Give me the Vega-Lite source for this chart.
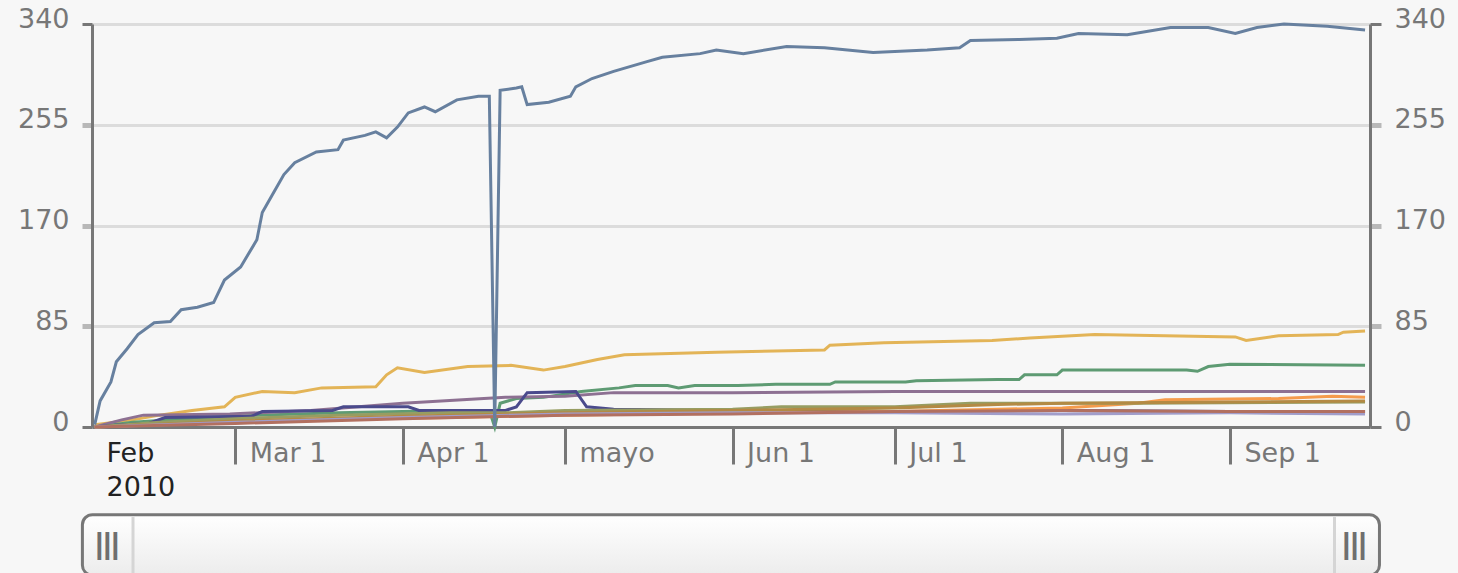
{
  "$schema": "https://vega.github.io/schema/vega-lite/v6.json",
  "width": 1278,
  "height": 403,
  "autosize": {"type": "none"},
  "padding": {"left": 92, "top": 24, "right": 88, "bottom": 146},
  "background": "#f7f7f7",
  "config": {"view": {"stroke": null}, "font": "DejaVu Sans"},
  "datasets": {
    "series": [
      {"s":"A","d":"2010-02-03","v":2},{"s":"A","d":"2010-02-04","v":22},{"s":"A","d":"2010-02-06","v":38},{"s":"A","d":"2010-02-07","v":55},{"s":"A","d":"2010-02-09","v":66},{"s":"A","d":"2010-02-11","v":78},{"s":"A","d":"2010-02-14","v":88},{"s":"A","d":"2010-02-17","v":89},{"s":"A","d":"2010-02-19","v":99},{"s":"A","d":"2010-02-22","v":101},{"s":"A","d":"2010-02-25","v":105},{"s":"A","d":"2010-02-27","v":124},{"s":"A","d":"2010-03-02","v":135},{"s":"A","d":"2010-03-05","v":158},{"s":"A","d":"2010-03-06","v":181},{"s":"A","d":"2010-03-08","v":197},{"s":"A","d":"2010-03-10","v":213},{"s":"A","d":"2010-03-12","v":223},{"s":"A","d":"2010-03-16","v":232},{"s":"A","d":"2010-03-20","v":234},{"s":"A","d":"2010-03-21","v":242},{"s":"A","d":"2010-03-25","v":246},{"s":"A","d":"2010-03-27","v":249},{"s":"A","d":"2010-03-29","v":244},{"s":"A","d":"2010-03-31","v":253},{"s":"A","d":"2010-04-02","v":265},{"s":"A","d":"2010-04-05","v":270},{"s":"A","d":"2010-04-07","v":266},{"s":"A","d":"2010-04-11","v":276},{"s":"A","d":"2010-04-15","v":279},{"s":"A","d":"2010-04-17","v":279},{"s":"A","d":"2010-04-18","v":0},{"s":"A","d":"2010-04-19","v":284},{"s":"A","d":"2010-04-22","v":286},{"s":"A","d":"2010-04-23","v":287},{"s":"A","d":"2010-04-24","v":272},{"s":"A","d":"2010-04-28","v":274},{"s":"A","d":"2010-05-02","v":279},{"s":"A","d":"2010-05-03","v":287},{"s":"A","d":"2010-05-06","v":294},{"s":"A","d":"2010-05-10","v":300},{"s":"A","d":"2010-05-16","v":308},{"s":"A","d":"2010-05-19","v":312},{"s":"A","d":"2010-05-26","v":315},{"s":"A","d":"2010-05-29","v":318},{"s":"A","d":"2010-06-03","v":315},{"s":"A","d":"2010-06-11","v":321},{"s":"A","d":"2010-06-18","v":320},{"s":"A","d":"2010-06-27","v":316},{"s":"A","d":"2010-07-07","v":318},{"s":"A","d":"2010-07-13","v":320},{"s":"A","d":"2010-07-15","v":326},{"s":"A","d":"2010-07-24","v":327},{"s":"A","d":"2010-07-31","v":328},{"s":"A","d":"2010-08-04","v":332},{"s":"A","d":"2010-08-13","v":331},{"s":"A","d":"2010-08-21","v":337},{"s":"A","d":"2010-08-28","v":337},{"s":"A","d":"2010-09-02","v":332},{"s":"A","d":"2010-09-06","v":337},{"s":"A","d":"2010-09-11","v":340},{"s":"A","d":"2010-09-19","v":338},{"s":"A","d":"2010-09-26","v":335},
      {"s":"B","d":"2010-02-03","v":2},{"s":"B","d":"2010-02-10","v":6},{"s":"B","d":"2010-02-15","v":10},{"s":"B","d":"2010-02-21","v":14},{"s":"B","d":"2010-02-27","v":17},{"s":"B","d":"2010-03-01","v":25},{"s":"B","d":"2010-03-06","v":30},{"s":"B","d":"2010-03-12","v":29},{"s":"B","d":"2010-03-17","v":33},{"s":"B","d":"2010-03-27","v":34},{"s":"B","d":"2010-03-29","v":44},{"s":"B","d":"2010-03-31","v":50},{"s":"B","d":"2010-04-05","v":46},{"s":"B","d":"2010-04-13","v":51},{"s":"B","d":"2010-04-21","v":52},{"s":"B","d":"2010-04-27","v":48},{"s":"B","d":"2010-05-01","v":51},{"s":"B","d":"2010-05-07","v":57},{"s":"B","d":"2010-05-12","v":61},{"s":"B","d":"2010-05-29","v":63},{"s":"B","d":"2010-06-18","v":65},{"s":"B","d":"2010-06-19","v":69},{"s":"B","d":"2010-06-29","v":71},{"s":"B","d":"2010-07-19","v":73},{"s":"B","d":"2010-07-26","v":75},{"s":"B","d":"2010-08-07","v":78},{"s":"B","d":"2010-09-02","v":76},{"s":"B","d":"2010-09-04","v":73},{"s":"B","d":"2010-09-10","v":77},{"s":"B","d":"2010-09-21","v":78},{"s":"B","d":"2010-09-22","v":80},{"s":"B","d":"2010-09-26","v":81},
      {"s":"C","d":"2010-02-03","v":0},{"s":"C","d":"2010-02-10","v":4},{"s":"C","d":"2010-02-20","v":7},{"s":"C","d":"2010-03-05","v":10},{"s":"C","d":"2010-03-20","v":12},{"s":"C","d":"2010-04-01","v":13},{"s":"C","d":"2010-04-10","v":14},{"s":"C","d":"2010-04-17","v":14},{"s":"C","d":"2010-04-18","v":0},{"s":"C","d":"2010-04-19","v":20},{"s":"C","d":"2010-04-22","v":24},{"s":"C","d":"2010-04-27","v":25},{"s":"C","d":"2010-05-04","v":30},{"s":"C","d":"2010-05-11","v":33},{"s":"C","d":"2010-05-14","v":35},{"s":"C","d":"2010-05-20","v":35},{"s":"C","d":"2010-05-22","v":33},{"s":"C","d":"2010-05-25","v":35},{"s":"C","d":"2010-06-02","v":35},{"s":"C","d":"2010-06-09","v":36},{"s":"C","d":"2010-06-19","v":36},{"s":"C","d":"2010-06-20","v":38},{"s":"C","d":"2010-07-03","v":38},{"s":"C","d":"2010-07-05","v":39},{"s":"C","d":"2010-07-20","v":40},{"s":"C","d":"2010-07-24","v":40},{"s":"C","d":"2010-07-25","v":44},{"s":"C","d":"2010-07-31","v":44},{"s":"C","d":"2010-08-01","v":48},{"s":"C","d":"2010-08-24","v":48},{"s":"C","d":"2010-08-26","v":47},{"s":"C","d":"2010-08-28","v":51},{"s":"C","d":"2010-09-01","v":53},{"s":"C","d":"2010-09-26","v":52},
      {"s":"D","d":"2010-02-03","v":0},{"s":"D","d":"2010-02-08","v":6},{"s":"D","d":"2010-02-12","v":10},{"s":"D","d":"2010-02-28","v":11},{"s":"D","d":"2010-03-15","v":14},{"s":"D","d":"2010-04-01","v":20},{"s":"D","d":"2010-04-16","v":24},{"s":"D","d":"2010-04-20","v":25},{"s":"D","d":"2010-05-01","v":26},{"s":"D","d":"2010-05-10","v":29},{"s":"D","d":"2010-06-01","v":29},{"s":"D","d":"2010-07-01","v":30},{"s":"D","d":"2010-08-01","v":30},{"s":"D","d":"2010-09-01","v":30},{"s":"D","d":"2010-09-26","v":30},
      {"s":"E","d":"2010-02-03","v":0},{"s":"E","d":"2010-02-08","v":2},{"s":"E","d":"2010-02-13","v":3},{"s":"E","d":"2010-02-16","v":8},{"s":"E","d":"2010-03-04","v":9},{"s":"E","d":"2010-03-06","v":13},{"s":"E","d":"2010-03-19","v":14},{"s":"E","d":"2010-03-21","v":17},{"s":"E","d":"2010-04-02","v":17},{"s":"E","d":"2010-04-04","v":14},{"s":"E","d":"2010-04-17","v":14},{"s":"E","d":"2010-04-20","v":14},{"s":"E","d":"2010-04-22","v":17},{"s":"E","d":"2010-04-24","v":29},{"s":"E","d":"2010-05-03","v":30},{"s":"E","d":"2010-05-05","v":17},{"s":"E","d":"2010-05-10","v":15},{"s":"E","d":"2010-06-01","v":14},{"s":"E","d":"2010-07-01","v":13},{"s":"E","d":"2010-08-01","v":14},{"s":"E","d":"2010-09-01","v":13},{"s":"E","d":"2010-09-26","v":13},
      {"s":"F","d":"2010-02-03","v":0},{"s":"F","d":"2010-02-13","v":2},{"s":"F","d":"2010-03-01","v":5},{"s":"F","d":"2010-03-25","v":7},{"s":"F","d":"2010-04-10","v":8},{"s":"F","d":"2010-05-01","v":10},{"s":"F","d":"2010-06-01","v":12},{"s":"F","d":"2010-07-01","v":13},{"s":"F","d":"2010-07-20","v":15},{"s":"F","d":"2010-08-01","v":16},{"s":"F","d":"2010-08-15","v":20},{"s":"F","d":"2010-08-20","v":23},{"s":"F","d":"2010-09-10","v":24},{"s":"F","d":"2010-09-20","v":26},{"s":"F","d":"2010-09-26","v":25},
      {"s":"G","d":"2010-02-03","v":0},{"s":"G","d":"2010-02-15","v":4},{"s":"G","d":"2010-03-01","v":7},{"s":"G","d":"2010-03-20","v":10},{"s":"G","d":"2010-04-10","v":12},{"s":"G","d":"2010-04-20","v":12},{"s":"G","d":"2010-05-01","v":14},{"s":"G","d":"2010-06-01","v":15},{"s":"G","d":"2010-06-10","v":17},{"s":"G","d":"2010-07-01","v":17},{"s":"G","d":"2010-07-15","v":20},{"s":"G","d":"2010-08-15","v":20},{"s":"G","d":"2010-09-26","v":21},
      {"s":"H","d":"2010-02-03","v":0},{"s":"H","d":"2010-03-01","v":5},{"s":"H","d":"2010-04-01","v":9},{"s":"H","d":"2010-05-01","v":12},{"s":"H","d":"2010-06-01","v":14},{"s":"H","d":"2010-07-01","v":16},{"s":"H","d":"2010-07-20","v":19},{"s":"H","d":"2010-08-01","v":20},{"s":"H","d":"2010-09-01","v":21},{"s":"H","d":"2010-09-26","v":22},
      {"s":"I","d":"2010-02-03","v":0},{"s":"I","d":"2010-03-01","v":4},{"s":"I","d":"2010-04-01","v":8},{"s":"I","d":"2010-05-01","v":11},{"s":"I","d":"2010-06-01","v":12},{"s":"I","d":"2010-07-01","v":12},{"s":"I","d":"2010-08-01","v":11},{"s":"I","d":"2010-09-01","v":12},{"s":"I","d":"2010-09-26","v":11},
      {"s":"J","d":"2010-02-03","v":0},{"s":"J","d":"2010-03-01","v":3},{"s":"J","d":"2010-04-01","v":7},{"s":"J","d":"2010-05-01","v":10},{"s":"J","d":"2010-06-01","v":11},{"s":"J","d":"2010-07-01","v":13},{"s":"J","d":"2010-08-01","v":14},{"s":"J","d":"2010-09-01","v":13},{"s":"J","d":"2010-09-26","v":13}
    ],
    "bar": [{"a":"2010-01-31T17:24:00Z","b":"2010-09-28T16:00:00Z","lo":-74,"hi":-125}],
    "grips": [{"a":"2010-02-10T02:00:00Z","lo":-76,"hi":-124},{"a":"2010-09-20T08:24:00Z","lo":-76,"hi":-124}],
    "handles": [{"a":"2010-02-05T08:00:00Z","y":-99.5,"t":"|||"},{"a":"2010-09-24T01:12:00Z","y":-99.5,"t":"|||"}]
  },
  "resolve": {"scale": {"x": "shared", "y": "shared", "color": "shared"}, "axis": {"x": "independent", "y": "independent"}},
  "layer": [
    {
      "data": {"name": "series"},
      "transform": [{"filter": "datum.s != 'A'"}],
      "mark": {"type": "line", "strokeWidth": 3, "interpolate": "linear"},
      "encoding": {
        "x": {
          "field": "d", "type": "temporal",
          "scale": {"type": "utc", "domain": [{"year": 2010, "month": 2, "date": 2, "hours": 12, "utc": true}, {"year": 2010, "month": 9, "date": 26, "hours": 22, "utc": true}]},
          "axis": {
            "title": null,
            "values": [
              {"year": 2010, "month": 2, "date": 2, "hours": 12, "utc": true},
              {"year": 2010, "month": 3, "date": 1, "utc": true},
              {"year": 2010, "month": 4, "date": 1, "utc": true},
              {"year": 2010, "month": 5, "date": 1, "utc": true},
              {"year": 2010, "month": 6, "date": 1, "utc": true},
              {"year": 2010, "month": 7, "date": 1, "utc": true},
              {"year": 2010, "month": 8, "date": 1, "utc": true},
              {"year": 2010, "month": 9, "date": 1, "utc": true}
            ],
            "labelExpr": "utcmonth(datum.value) == 1 ? ['Feb', '2010'] : (utcmonth(datum.value) == 4 ? 'mayo' : utcFormat(datum.value, '%b %-d'))",
            "labelAlign": "left",
            "labelBaseline": "alphabetic",
            "labelOffset": 14,
            "labelPadding": -3,
            "labelFlush": false,
            "labelOverlap": false,
            "labelBound": false,
            "labelFont": "DejaVu Sans",
            "labelFontSize": 27,
            "labelLineHeight": 34,
            "labelColor": {"condition": {"test": "utcmonth(datum.value) == 1", "value": "#222222"}, "value": "#777777"},
            "tickSize": 37,
            "tickWidth": 3,
            "tickColor": "#777777",
            "tickOpacity": {"condition": {"test": "utcmonth(datum.value) == 1", "value": 0}, "value": 1},
            "domainColor": "#777777",
            "domainWidth": 3,
            "grid": false
          }
        },
        "y": {
          "field": "v", "type": "quantitative",
          "scale": {"domain": [0, 340], "nice": false},
          "axis": {
            "orient": "left", "title": null,
            "values": [0, 85, 170, 255, 340],
            "grid": true, "gridColor": "#dcdcdc", "gridWidth": 3,
            "domainColor": "#777777", "domainWidth": 3,
            "tickSize": 10,
            "tickColor": {"condition": {"test": "datum.value == 340 || datum.value == 0", "value": "#777777"}, "value": "#b8b8b8"},
            "tickWidth": {"condition": {"test": "datum.value == 340 || datum.value == 0", "value": 3}, "value": 5},
            "labelPadding": 13, "labelFont": "DejaVu Sans", "labelFontSize": 27, "labelColor": "#777777", "labelOffset": -5
          }
        },
        "color": {
          "field": "s", "type": "nominal", "legend": null,
          "scale": {"domain": ["A","B","C","D","E","F","G","H","I","J"], "range": ["#67809f","#e3b457","#5e9b73","#8d7092","#4a4a8c","#f59b4c","#979d62","#b38a44","#a19dca","#b27060"]}
        }
      }
    },
    {
      "data": {"name": "series"},
      "transform": [{"filter": "datum.s == 'A'"}],
      "mark": {"type": "line", "strokeWidth": 3, "interpolate": "linear"},
      "encoding": {
        "x": {"field": "d", "type": "temporal", "axis": null},
        "y": {
          "field": "v", "type": "quantitative",
          "scale": {"domain": [0, 340], "nice": false},
          "axis": {
            "orient": "right", "title": null,
            "values": [0, 85, 170, 255, 340],
            "grid": false,
            "domainColor": "#777777", "domainWidth": 3,
            "tickSize": 11,
            "tickColor": {"condition": {"test": "datum.value == 340 || datum.value == 0", "value": "#777777"}, "value": "#b8b8b8"},
            "tickWidth": {"condition": {"test": "datum.value == 340 || datum.value == 0", "value": 3}, "value": 5},
            "labelPadding": 13, "labelFont": "DejaVu Sans", "labelFontSize": 27, "labelColor": "#777777", "labelOffset": -5
          }
        },
        "color": {
          "field": "s", "type": "nominal", "legend": null,
          "scale": {"domain": ["A","B","C","D","E","F","G","H","I","J"], "range": ["#67809f","#e3b457","#5e9b73","#8d7092","#4a4a8c","#f59b4c","#979d62","#b38a44","#a19dca","#b27060"]}
        }
      }
    },
    {
      "data": {"name": "bar"},
      "mark": {"type": "rect", "cornerRadius": 10, "stroke": "#777777", "strokeWidth": 3,
        "fill": {"gradient": "linear", "x1": 0, "y1": 0, "x2": 0, "y2": 1, "stops": [{"offset": 0, "color": "#ffffff"}, {"offset": 1, "color": "#ececec"}]}},
      "encoding": {
        "x": {"field": "a", "type": "temporal", "axis": null},
        "x2": {"field": "b"},
        "y": {"field": "lo", "type": "quantitative", "scale": {"domain": [0, 340], "nice": false}, "axis": null},
        "y2": {"field": "hi"}
      }
    },
    {
      "data": {"name": "grips"},
      "mark": {"type": "rule", "strokeWidth": 3, "color": "#d5d5d5"},
      "encoding": {
        "x": {"field": "a", "type": "temporal", "axis": null},
        "y": {"field": "lo", "type": "quantitative", "scale": {"domain": [0, 340], "nice": false}, "axis": null},
        "y2": {"field": "hi"}
      }
    },
    {
      "data": {"name": "handles"},
      "mark": {"type": "text", "font": "Liberation Sans", "fontSize": 29, "fontWeight": "bold", "color": "#6f6f6f", "align": "center", "baseline": "middle"},
      "encoding": {
        "x": {"field": "a", "type": "temporal", "axis": null},
        "y": {"field": "y", "type": "quantitative", "scale": {"domain": [0, 340], "nice": false}, "axis": null},
        "text": {"field": "t"}
      }
    }
  ]
}
